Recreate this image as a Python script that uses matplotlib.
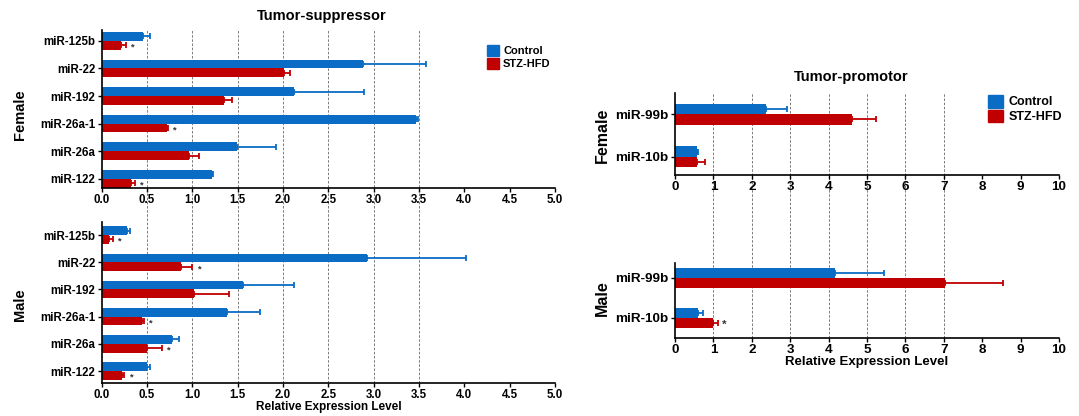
import numpy as np
import matplotlib
matplotlib.use('Agg')
import matplotlib.pyplot as plt
from matplotlib.patches import Patch

plt.rcParams['font.family'] = ['Liberation Sans', 'DejaVu Sans']
plt.rcParams['font.weight'] = 'bold'
plt.rcParams['axes.labelweight'] = 'bold'

BLUE = '#0b6cc6'
RED = '#c00000'

# tumor-suppressor miRNAs, listed top to bottom
ts_names = ['miR-125b', 'miR-22', 'miR-192', 'miR-26a-1', 'miR-26a', 'miR-122']
f_ctrl = [0.46, 2.88, 2.12, 3.47, 1.49, 1.22]
f_ctrl_err = [0.07, 0.70, 0.77, 0.02, 0.43, 0.01]
f_stz = [0.21, 2.01, 1.35, 0.72, 0.96, 0.32]
f_stz_err = [0.06, 0.07, 0.09, 0.01, 0.11, 0.05]
f_star = [True, False, False, True, False, True]

m_ctrl = [0.28, 2.93, 1.56, 1.38, 0.77, 0.50]
m_ctrl_err = [0.03, 1.09, 0.56, 0.37, 0.08, 0.03]
m_stz = [0.085, 0.88, 1.02, 0.44, 0.50, 0.22]
m_stz_err = [0.035, 0.12, 0.38, 0.03, 0.16, 0.03]
m_star = [True, True, False, True, True, True]

# tumor-promotor miRNAs
tp_names = ['miR-99b', 'miR-10b']
tpf_ctrl = [2.38, 0.58]
tpf_ctrl_err = [0.54, 0.03]
tpf_stz = [4.61, 0.56]
tpf_stz_err = [0.63, 0.22]
tpf_star = [False, False]

tpm_ctrl = [4.16, 0.61]
tpm_ctrl_err = [1.29, 0.13]
tpm_stz = [7.03, 0.98]
tpm_stz_err = [1.52, 0.13]
tpm_star = [False, True]

W, H = 1079, 416
fig = plt.figure(figsize=(W / 100, H / 100), dpi=100)


def box(x0, x1, y0, y1):
    # pixel box (from top-left) -> figure fraction rect
    return [x0 / W, 1 - y1 / H, (x1 - x0) / W, (y1 - y0) / H]


def grid_axes(x0, x1, y0, y1, xmax, grid_x):
    g = fig.add_axes(box(x0, x1, y0, y1))
    g.set_xlim(0, xmax)
    g.set_ylim(0, 1)
    g.axis('off')
    for gx in grid_x:
        g.axvline(gx, color='#666666', lw=0.6, ls=(0, (3, 2)))
    return g


def panel(rect, names, ctrl, cerr, stz, serr, stars, bh, ylim, xmax, xticks, fmt, fs):
    ax = fig.add_axes(rect)
    ax.patch.set_alpha(0)
    y = np.arange(len(names))[::-1]
    ekw = dict(elinewidth=1.3, capthick=1.3)
    ax.barh(y + bh / 2, ctrl, height=bh, color=BLUE, xerr=[np.zeros(len(ctrl)), cerr],
            capsize=2, error_kw=dict(ecolor=BLUE, **ekw))
    ax.barh(y - bh / 2, stz, height=bh, color=RED, xerr=[np.zeros(len(stz)), serr],
            capsize=2, error_kw=dict(ecolor=RED, **ekw))
    for yi, v, e, s in zip(y, stz, serr, stars):
        if s:
            ax.annotate('*', xy=(v + e, yi - bh / 2), xytext=(3, -1.5), textcoords='offset points',
                        va='center', ha='left', fontsize=fs - 1.5, color='#333333')
    ax.set_xlim(0, xmax)
    ax.set_ylim(*ylim)
    ax.set_yticks(y)
    ax.set_yticklabels(names, fontsize=fs)
    ax.set_xticks(xticks)
    ax.set_xticklabels([fmt.format(t) for t in xticks], fontsize=fs)
    for sp in ['top', 'right']:
        ax.spines[sp].set_visible(False)
    for sp in ['left', 'bottom']:
        ax.spines[sp].set_linewidth(1.2)
    ax.tick_params(axis='both', length=3, width=1, pad=1.5)
    return ax


# ---- left: tumor-suppressor ----
grid_axes(101.7, 555, 30, 383, 5, [0.5, 1.0, 1.5, 2.0, 2.5, 3.0, 3.5])
ts_ticks = np.arange(0, 5.01, 0.5)
panel(box(101.7, 555, 30, 188), ts_names, f_ctrl, f_ctrl_err, f_stz, f_stz_err, f_star,
      0.32, (-0.33, 5.39), 5, ts_ticks, '{:.1f}', 8.3)
axm = panel(box(101.7, 555, 222, 383), ts_names, m_ctrl, m_ctrl_err, m_stz, m_stz_err, m_star,
            0.32, (-0.44, 5.48), 5, ts_ticks, '{:.1f}', 8.3)
axm.set_xlabel('Relative Expression Level', fontsize=8.5, labelpad=0)
fig.text(322 / W, 1 - 16 / H, 'Tumor-suppressor', ha='center', va='center', fontsize=10.5)
fig.text(20 / W, 1 - 115 / H, 'Female', rotation=90, ha='center', va='center', fontsize=10.5)
fig.text(20 / W, 1 - 305 / H, 'Male', rotation=90, ha='center', va='center', fontsize=10.5)
fig.legend(handles=[Patch(color=BLUE, label='Control'), Patch(color=RED, label='STZ-HFD')],
           loc='center left', bbox_to_anchor=(481 / W, 1 - 57 / H), frameon=False,
           fontsize=8, handlelength=1.1, handleheight=1.1, handletextpad=0.4,
           labelspacing=0.15, borderpad=0)

# ---- right: tumor-promotor ----
grid_axes(675, 1059, 93, 338, 10, [1, 2, 3, 4, 5, 6, 7])
tp_ticks = np.arange(0, 11, 1)
panel(box(675, 1059, 93, 175), tp_names, tpf_ctrl, tpf_ctrl_err, tpf_stz, tpf_stz_err, tpf_star,
      0.245, (-0.42, 1.49), 10, tp_ticks, '{:d}', 9.7)
axr = panel(box(675, 1059, 263, 338), tp_names, tpm_ctrl, tpm_ctrl_err, tpm_stz, tpm_stz_err,
            tpm_star, 0.26, (-0.5, 1.375), 10, tp_ticks, '{:d}', 9.7)
axr.set_xlabel('Relative Expression Level', fontsize=9.5, labelpad=0)
fig.text(851 / W, 1 - 77 / H, 'Tumor-promotor', ha='center', va='center', fontsize=10.5)
fig.text(602 / W, 1 - 135 / H, 'Female', rotation=90, ha='center', va='center', fontsize=11.5)
fig.text(602 / W, 1 - 298 / H, 'Male', rotation=90, ha='center', va='center', fontsize=11.5)
fig.legend(handles=[Patch(color=BLUE, label='Control'), Patch(color=RED, label='STZ-HFD')],
           loc='center left', bbox_to_anchor=(982 / W, 1 - 109 / H), frameon=False,
           fontsize=9, handlelength=1.2, handleheight=1.2, handletextpad=0.4,
           labelspacing=0.1, borderpad=0)

fig.savefig('out.png', dpi=100)
